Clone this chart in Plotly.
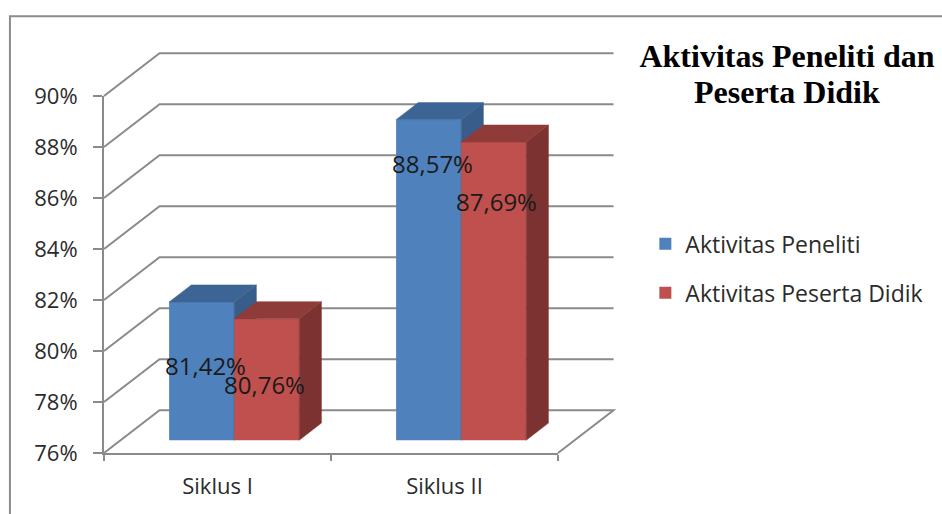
import plotly.graph_objects as go

categories = ["Siklus I", "Siklus II"]
aktivitas_peneliti = [81.42, 88.57]
aktivitas_peserta = [80.76, 87.69]
y_ticks = [76, 78, 80, 82, 84, 86, 88, 90]

WIDTH, HEIGHT = 942, 514
LEFT, RIGHT, TOP, BOTTOM = 104.0, 557.7, 95.7, 452.7
X_PER_CAT = (RIGHT - LEFT) / 2
Y_PER_PCT = (BOTTOM - TOP) / 14

# Oblique projection: how far the back wall sits from the front plane, in axis units
DEPTH_X = 55.5 / X_PER_CAT
DEPTH_Y = 42.7 / Y_PER_PCT
BAR_NEAR, BAR_FAR = 0.30, 0.70
BAR_WIDTH = 65.0 / X_PER_CAT

GRID = "#8a8a8a"
TEXT = "#2b2b2b"
FONT = "Open Sans"


def project(x, y, t):
    return x + t * DEPTH_X, y + t * DEPTH_Y


def paper_x(px):
    return (px - LEFT) / (RIGHT - LEFT)


def paper_y(py):
    return (BOTTOM - py) / (BOTTOM - TOP)


def value_to_paper(x, y):
    return x / 2, (y - y_ticks[0]) / (y_ticks[-1] - y_ticks[0])


def polygon(points, color, xaxis, yaxis):
    xs, ys = zip(*points)
    return go.Scatter(
        x=list(xs) + [xs[0]], y=list(ys) + [ys[0]], mode="lines", fill="toself",
        fillcolor=color, line=dict(color=color, width=0.5), hoverinfo="skip",
        showlegend=False, cliponaxis=False, xaxis=xaxis, yaxis=yaxis,
    )


fig = go.Figure()

# Walls and floor of the chart box, kept beneath the bars
box_lines = []
for v in y_ticks:
    bx, by = project(0, v, 1)
    pts = [(0, v), (bx, by), (2 + DEPTH_X, by)]
    if v == y_ticks[0]:
        pts.append((2, v))
    paper_pts = [value_to_paper(x, y) for x, y in pts]
    path = "M " + " L ".join(f"{x:.5f} {y:.5f}" for x, y in paper_pts)
    box_lines.append(dict(
        type="path", xref="paper", yref="paper", path=path, layer="below",
        line=dict(color=GRID, width=2),
    ))

# The outer frame is open on the right and along the bottom
box_lines.append(dict(
    type="path", xref="paper", yref="paper",
    path=f"M {paper_x(10)} {paper_y(514)} L {paper_x(10)} {paper_y(16)} L {paper_x(942)} {paper_y(16)}",
    line=dict(color="#8c8c8c", width=2),
))

# Each series sits on its own overlay so its bars cover the series behind it
series = [
    ("Aktivitas Peneliti", aktivitas_peneliti, "#4F81BD", "#3C6595", "#385D8A", "x", "y", -BAR_WIDTH),
    ("Aktivitas Peserta Didik", aktivitas_peserta, "#C0504D", "#8F3B39", "#7B3230", "x2", "y2", 0.0),
]
centers = [i + 0.5 + BAR_NEAR * DEPTH_X for i in range(len(categories))]
base = y_ticks[0] + BAR_NEAR * DEPTH_Y
lift = base - y_ticks[0]

for name, values, front, top, side, xa, ya, offset in series:
    fig.add_trace(go.Bar(
        x=centers, y=[v - y_ticks[0] for v in values], base=[base] * len(values),
        width=BAR_WIDTH, offset=offset, name=name, legendgroup=name,
        marker=dict(color=front, line=dict(width=0)),
        cliponaxis=False, xaxis=xa, yaxis=ya, hoverinfo="skip",
    ))
    for c, v in zip(centers, values):
        x0, x1 = c + offset, c + offset + BAR_WIDTH
        h = v + lift
        step = BAR_FAR - BAR_NEAR
        fig.add_trace(polygon(
            [(x1, h), project(x1, h, step), project(x1, base, step), (x1, base)], side, xa, ya))
        fig.add_trace(polygon(
            [(x0, h), project(x0, h, step), project(x1, h, step), (x1, h)], top, xa, ya))

# Value labels, nudged off the bar tops the way they were placed by hand
label_shift_x = [[4, 4], [-2, 3]]
label_shift_y = [[-64, -44], [-66, -59]]
for s, (name, values, *_rest) in enumerate(series):
    for i, v in enumerate(values):
        offset = -BAR_WIDTH / 2 if s == 0 else BAR_WIDTH / 2
        fig.add_annotation(
            x=centers[i] + offset, y=v + lift, xref="x", yref="y",
            text=f"{v:.2f}%".replace(".", ","), showarrow=False,
            xshift=label_shift_x[s][i], yshift=label_shift_y[s][i],
            font=dict(family=FONT, size=24, color="#1a1a1a"),
        )

# Second title line, set apart so the leading can be tighter than the title default
title_font = dict(family="Liberation Serif", size=32, color="black", weight="bold")
fig.add_annotation(
    x=paper_x(787), y=paper_y(92), xref="paper", yref="paper", text="Peserta Didik",
    showarrow=False, xanchor="center", yanchor="middle", font=title_font,
)

fig.update_layout(
    width=WIDTH, height=HEIGHT, autosize=False,
    margin=dict(l=LEFT, r=WIDTH - RIGHT, t=TOP, b=HEIGHT - BOTTOM, pad=0),
    paper_bgcolor="white", plot_bgcolor="rgba(0,0,0,0)",
    font=dict(family=FONT, size=22, color=TEXT),
    barmode="overlay",
    title=dict(
        text="Aktivitas Peneliti dan", font=title_font,
        x=787 / WIDTH, xanchor="center", y=1 - 56 / HEIGHT, yanchor="middle",
    ),
    xaxis=dict(
        range=[0, 2], tickvals=[0.5, 1.5], ticktext=categories, showgrid=False, zeroline=False,
        showline=True, linecolor=GRID, linewidth=2, ticks="", ticklabelstandoff=13,
        tickfont=dict(size=22),
        minor=dict(tickvals=[0, 1, 2], ticks="outside", ticklen=6, tickcolor=GRID, tickwidth=2),
    ),
    yaxis=dict(
        range=[y_ticks[0], y_ticks[-1]], tickvals=y_ticks, ticktext=[f"{v}%" for v in y_ticks],
        showgrid=False, zeroline=False, showline=True, linecolor=GRID, linewidth=2,
        ticks="outside", tickcolor=GRID, tickwidth=2, ticklen=9, ticklabelstandoff=11,
    ),
    xaxis2=dict(overlaying="x", range=[0, 2], visible=False),
    yaxis2=dict(overlaying="y", range=[y_ticks[0], y_ticks[-1]], visible=False),
    legend=dict(
        x=paper_x(645), y=paper_y(222), xanchor="left", yanchor="top",
        font=dict(size=23, color=TEXT), tracegroupgap=16, bgcolor="rgba(0,0,0,0)",
    ),
    shapes=box_lines,
)

fig.write_html("out.html", config=dict(displayModeBar=False))
